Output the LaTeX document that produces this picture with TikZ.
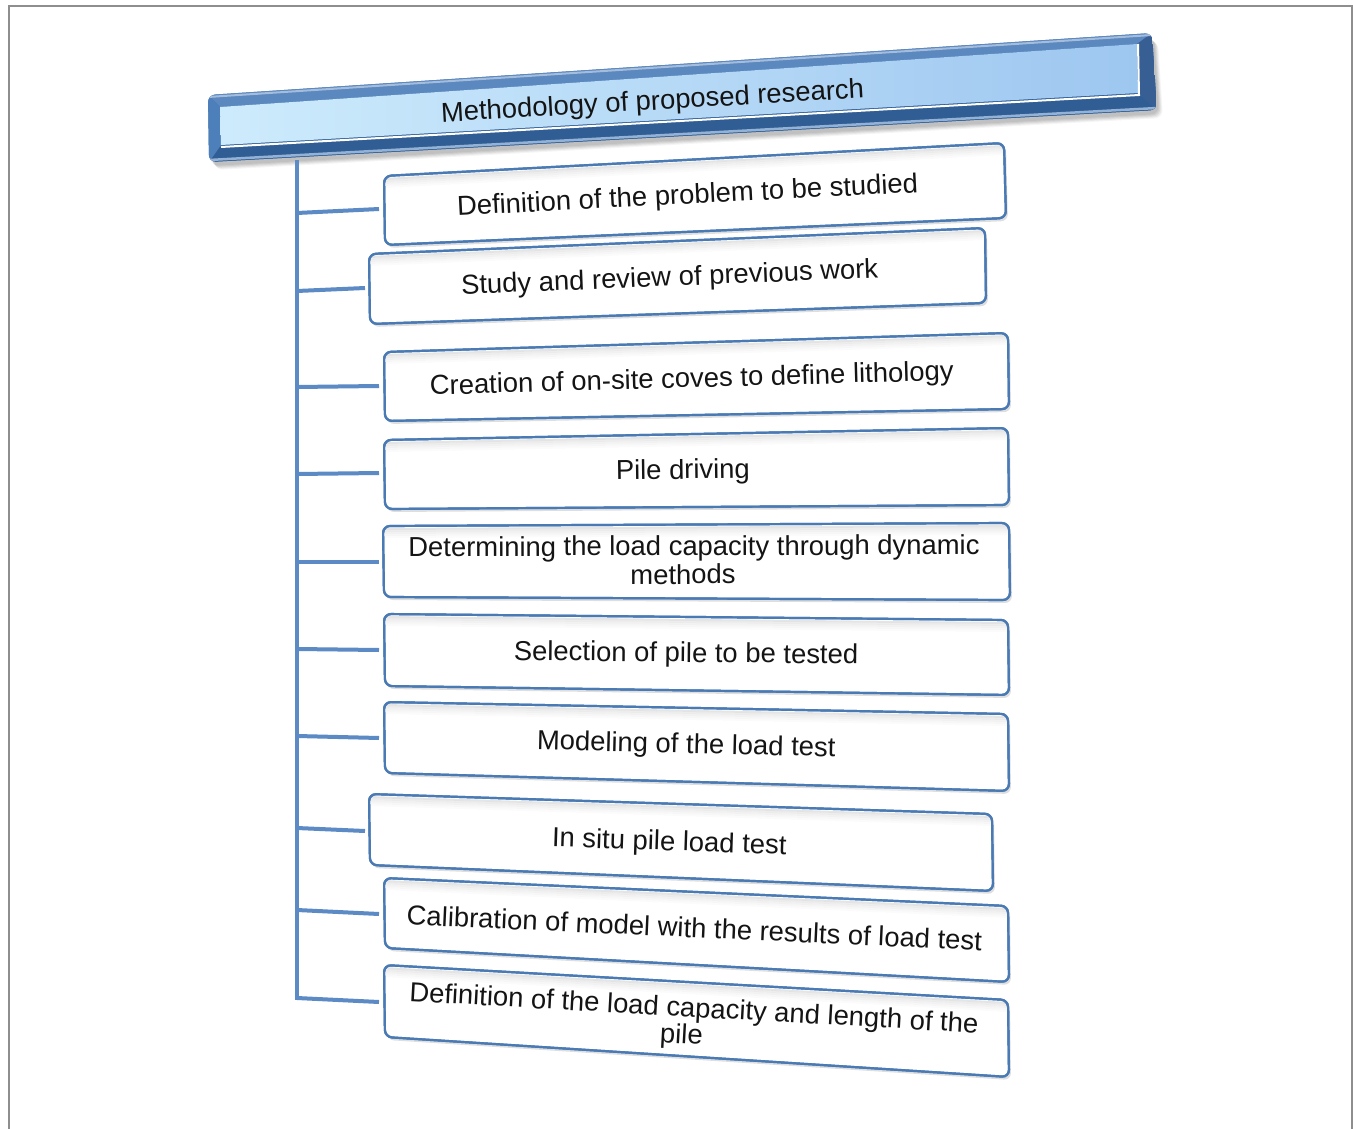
\documentclass[tikz,border=0pt]{standalone}
\usepackage{fontspec}
\setmainfont{Liberation Sans}
\definecolor{boxblue}{HTML}{4A7AB4}
\definecolor{connblue}{HTML}{5B8AC5}
\definecolor{framegray}{HTML}{8E8E8E}
\definecolor{bevbase}{HTML}{3F6EA7}
\definecolor{bevtop}{HTML}{5B88BF}
\definecolor{bevleft}{HTML}{4D7FBA}
\definecolor{bevbot}{HTML}{305D94}
\definecolor{bevright}{HTML}{375F94}
\definecolor{innerL}{HTML}{CDEBFC}
\definecolor{innerR}{HTML}{9EC7F0}
\tikzset{
  boxline/.style={draw=boxblue, line width=2.2, fill=white, rounded corners=7},
  boxshadow/.style={fill=black, opacity=.13, rounded corners=7},
  conn/.style={draw=connblue, line width=4},
  lbl/.style={font=\fontsize{27.4}{27.4}\selectfont, anchor=base, inner sep=0, text=black!92},
}
\newcommand\smartbox[5]{%
  \coordinate (#1-tl) at (#2);
  \coordinate (#1-tr) at (#3);
  \coordinate (#1-br) at (#4);
  \coordinate (#1-bl) at (#5);
  \fill[boxshadow] ([shift={(2,3)}]#1-tl) -- ([shift={(2,3)}]#1-tr) -- ([shift={(2,3)}]#1-br) -- ([shift={(2,3)}]#1-bl) -- cycle;
  \draw[boxline] (#1-tl) -- (#1-tr) -- (#1-br) -- (#1-bl) -- cycle;
  \begin{scope}
    \clip[rounded corners=7] (#1-tl) -- (#1-tr) -- (#1-br) -- (#1-bl) -- cycle;
    \foreach \k/\o in {3/.10,5/.07,7/.05,9/.03,11/.015}{
      \draw[black, opacity=\o, line width=2] ([shift={(0,\k)}]#1-tl) -- ([shift={(0,\k)}]#1-tr);
    }
  \end{scope}
  \draw[draw=boxblue, line width=2.2, rounded corners=7] (#1-tl) -- (#1-tr) -- (#1-br) -- (#1-bl) -- cycle;
}
\begin{document}
\begin{tikzpicture}[x=1pt,y=-1pt]
\useasboundingbox (0,0) rectangle (1353,1129);
\fill[white] (0,0) rectangle (1353,1129);
% outer frame
\draw[framegray, line width=2] (8.5,1135) -- (8.5,6) -- (1352,6) -- (1352,1135);

% ---------- title bar ----------
\coordinate (oTL) at (208,95);
\coordinate (oTR) at (1152,33);
\coordinate (oBR) at (1157,110);
\coordinate (oBL) at (209,162);
\coordinate (iTL) at (220,107);
\coordinate (iTR) at (1137,44);
\coordinate (iBR) at (1138,93);
\coordinate (iBL) at (221,145);
\foreach \dx/\dy/\o in {2/4/.06,3/5/.06,4/6/.06,5/7/.05,6/8/.04}{
  \fill[black, opacity=\o, rounded corners=8] ([shift={(\dx,\dy)}]oTL) -- ([shift={(\dx,\dy)}]oTR) -- ([shift={(\dx,\dy)}]oBR) -- ([shift={(\dx,\dy)}]oBL) -- cycle;
}
\begin{scope}
  \clip[rounded corners=7] (oTL) -- (oTR) -- (oBR) -- (oBL) -- cycle;
  \fill[bevbase] (oTL) -- (oTR) -- (oBR) -- (oBL) -- cycle;
  \fill[bevtop] (oTL) -- (oTR) -- (iTR) -- (iTL) -- cycle;
  \fill[bevright] (oTR) -- (oBR) -- (iBR) -- (iTR) -- cycle;
  \fill[bevbot] (iBL) -- (iBR) -- (oBR) -- (oBL) -- cycle;
  \fill[bevleft] (oTL) -- (iTL) -- (iBL) -- (oBL) -- cycle;
  \draw[bevtop!55!white, line width=2] ([shift={(0,2)}]oTL) -- ([shift={(0,2)}]oTR);
  \draw[bevtop!65!white, line width=2.5] ([shift={(0,-2)}]oBL) -- ([shift={(0,-2)}]oBR);
\end{scope}
\shade[left color=innerL, right color=innerR] (iTL) -- (iTR) -- (iBR) -- (iBL) -- cycle;
\draw[white, line width=2] ([shift={(0,2)}]iBL) -- ([shift={(1,2)}]iBR) -- ([shift={(1,0)}]iTR);
\node[lbl, rotate=3.3] (title) at (653,110) {Methodology of proposed research};

% ---------- connectors ----------
\coordinate (vtop) at (297,160);
\coordinate (vbot) at (297,1000);
\coordinate (j1) at (297,213);  \coordinate (e1) at (379,209);
\coordinate (j2) at (297,291);  \coordinate (e2) at (365,288);
\coordinate (j3) at (297,387);  \coordinate (e3) at (379,386);
\coordinate (j4) at (297,474);  \coordinate (e4) at (379,473);
\coordinate (j5) at (297,562);  \coordinate (e5) at (379,562);
\coordinate (j6) at (297,649);  \coordinate (e6) at (379,650);
\coordinate (j7) at (297,736);  \coordinate (e7) at (379,738);
\coordinate (j8) at (297,828);  \coordinate (e8) at (365,831);
\coordinate (j9) at (297,910);  \coordinate (e9) at (379,914);
\coordinate (j10) at (297,998); \coordinate (e10) at (379,1002);
\draw[conn] (vtop) -- (vbot);
\foreach \i in {1,...,10}{\draw[conn] (j\i) -- (e\i);}

% ---------- boxes ----------
\smartbox{b1}{384,176}{1004,143}{1006,218}{385,245}
\smartbox{b2}{369,254}{985,228}{986,303}{370,324}
\smartbox{b3}{384,352}{1008,333}{1009,409}{385,421}
\smartbox{b4}{384,440}{1008,428}{1009,505}{385,509}
\smartbox{b5}{383,526}{1009,523}{1010,600}{384,597}
\smartbox{b6}{384,614}{1008,620}{1009,695}{385,686}
\smartbox{b7}{384,702}{1008,714}{1009,791}{385,773}
\smartbox{b8}{369,794}{992,814}{993,891}{370,865}
\smartbox{b9}{384,878}{1008,906}{1009,982}{385,948}
\smartbox{b10}{384,965}{1008,1000}{1009,1077}{385,1037}

% ---------- texts ----------
\node[lbl, rotate=2.9] (t1) at (688,204) {Definition of the problem to be studied};
\node[lbl, rotate=2.3] (t2) at (670,286) {Study and review of previous work};
\node[lbl, rotate=1.6] (t3) at (692,387.5) {Creation of on-site coves to define lithology};
\node[lbl, rotate=0.8] (t4) at (683,479) {Pile driving};
\node[lbl, rotate=0.2] (t5a) at (694,555.5) {Determining the load capacity through dynamic};
\node[lbl, rotate=0.2] (t5b) at (683,584) {methods};
\node[lbl, rotate=-0.6] (t6) at (686,662) {Selection of pile to be tested};
\node[lbl, rotate=-1.4] (t7) at (686,753) {Modeling of the load test};
\node[lbl, rotate=-1.9] (t8) at (669,850.5) {In situ pile load test};
\node[lbl, rotate=-2.6] (t9) at (694,937.5) {Calibration of model with the results of load test};
\node[lbl, anchor=center, align=center, font=\fontsize{27.4}{27}\selectfont, rotate=-3.2] (t10) at (693.1,1023.5)
  {Definition of the load capacity and length of the\\pile\kern22pt};
\end{tikzpicture}
\end{document}
